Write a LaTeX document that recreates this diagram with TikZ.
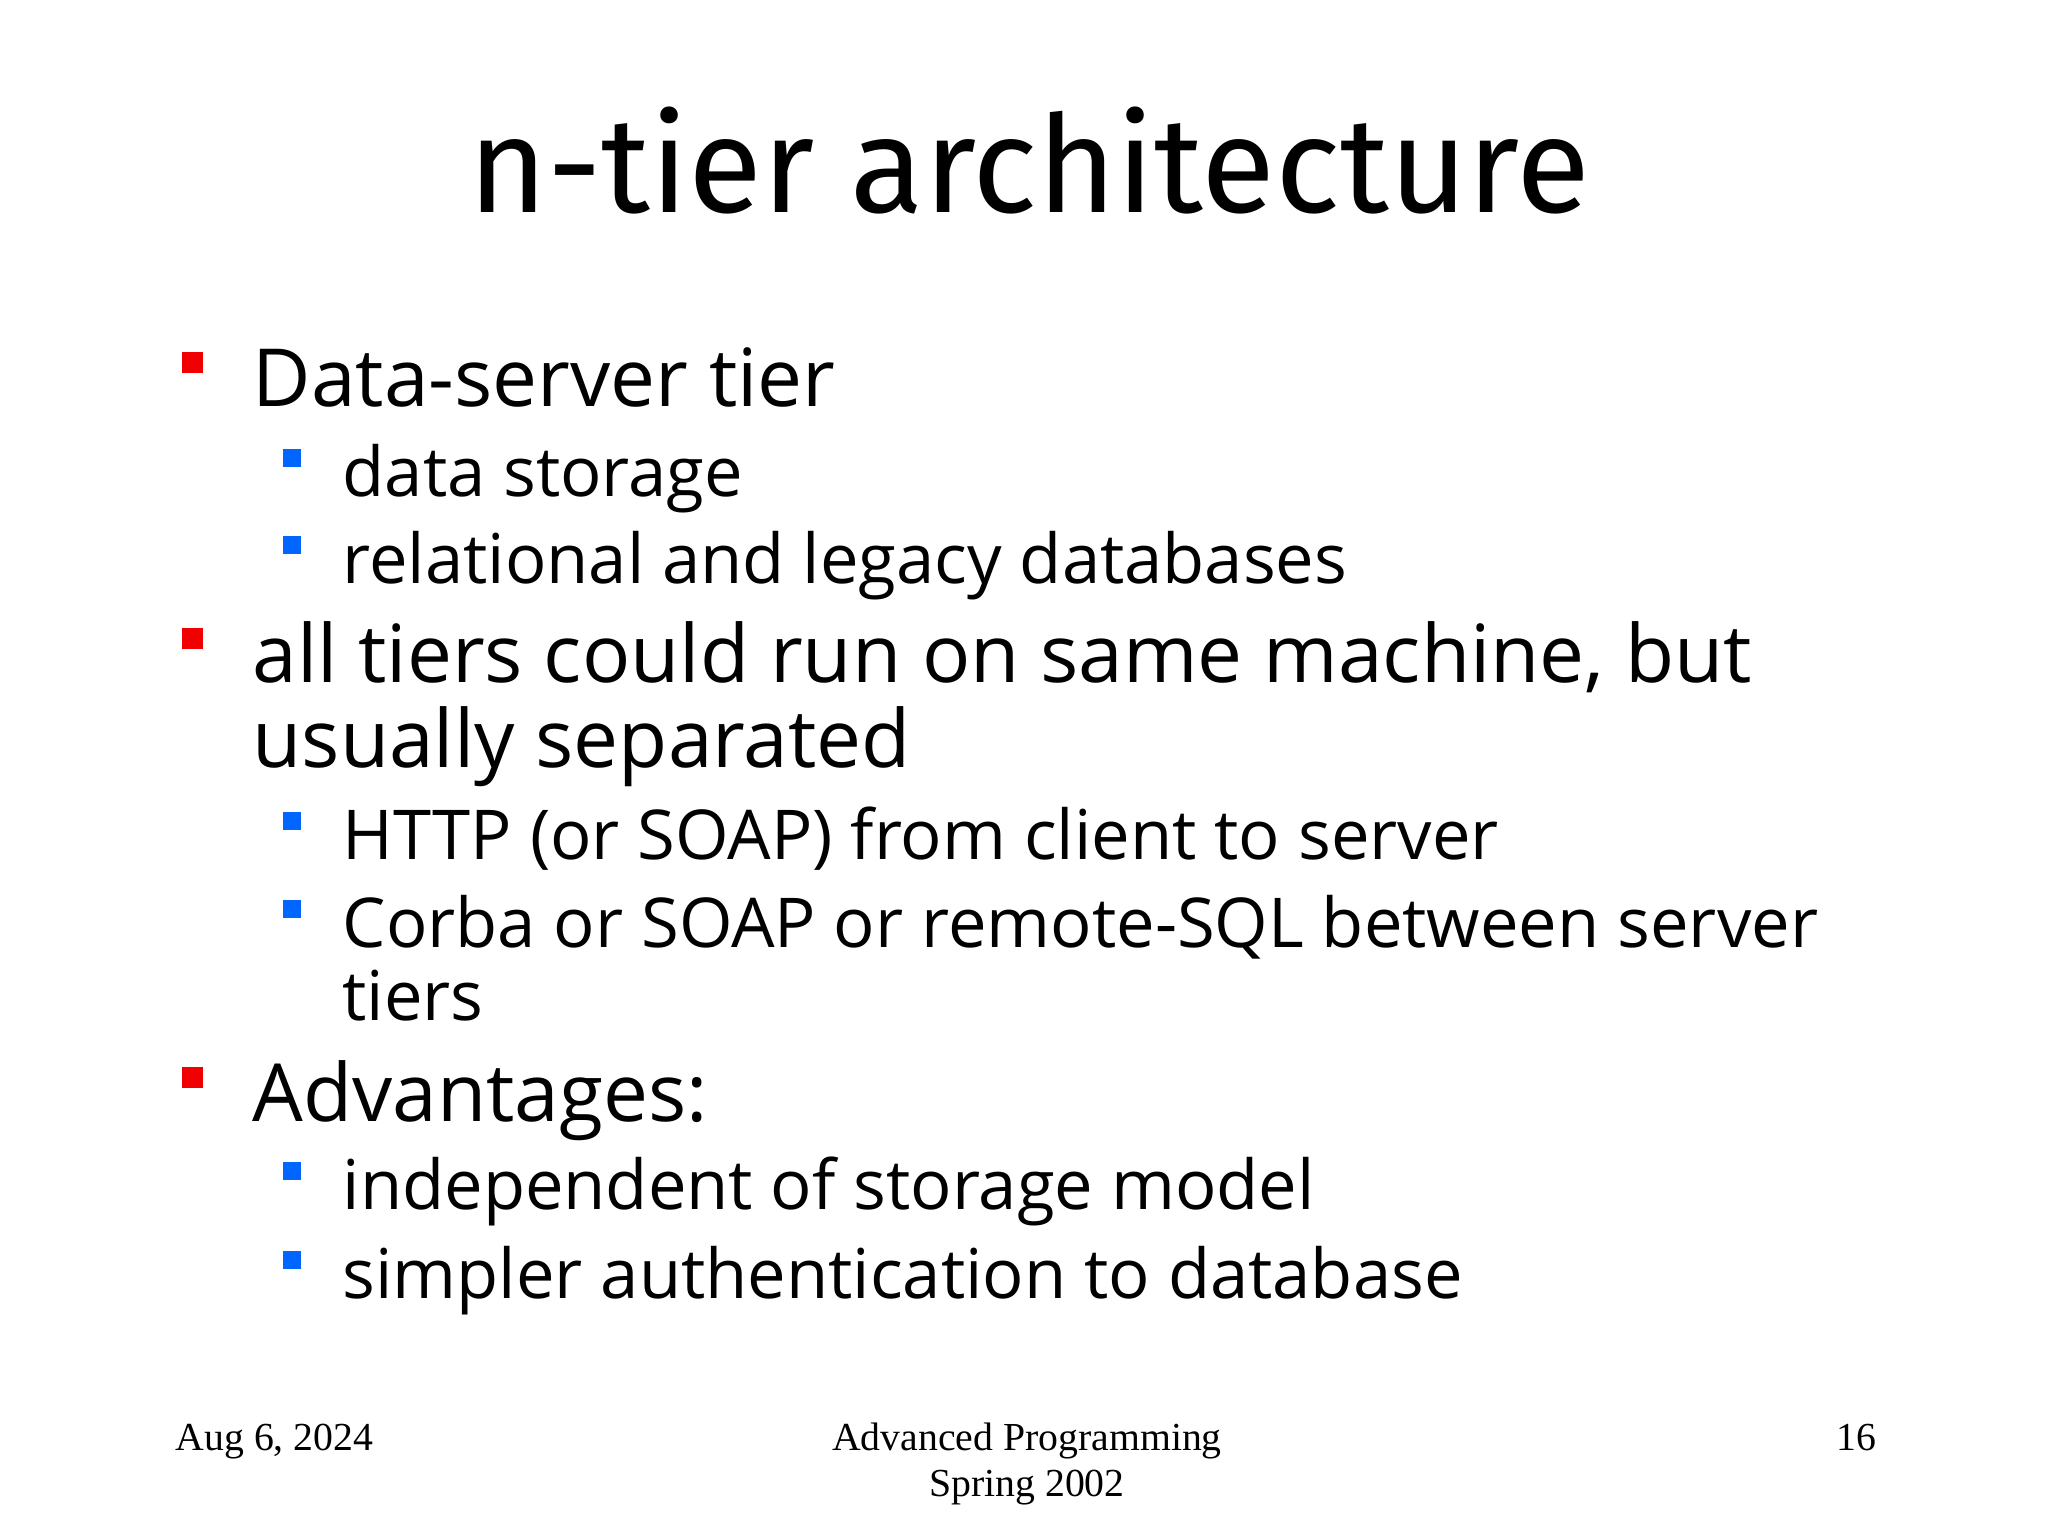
\documentclass[tikz,border=0pt]{standalone}
\usepackage{fontspec}
\setmainfont{Open Sans}
\newfontfamily\footfont{Liberation Serif}
\newfontfamily\titlefont{Fira Sans}
\definecolor{bred}{RGB}{240,0,0}
\definecolor{bblue}{RGB}{0,102,255}
\begin{document}
\begin{tikzpicture}[x=0.01cm,y=-0.01cm,
  lone/.style={anchor=base west,inner sep=0,font=\fontsize{22.8}{28}\selectfont},
  ltwo/.style={anchor=base west,inner sep=0,font=\fontsize{19.55}{24}\selectfont},
  foot/.style={anchor=base,inner sep=0,font=\footfont\fontsize{11.3}{14}\selectfont}]
\useasboundingbox (0,0) rectangle (2048,1536);
\fill[white] (0,0) rectangle (2048,1536);
\node[anchor=base,inner sep=0,font=\titlefont\fontsize{38.5}{42}\selectfont] (title) at (1029,212) {n-tier architecture};
\foreach \y in {352,628,1067} \fill[bred] (182,\y) rectangle +(21,21);
\foreach \y in {449,536,812,900,1162,1251} \fill[bblue] (283,\y) rectangle +(18,18);
\node[lone] (a) at (252,406) {Data-server tier};
\node[ltwo] (a1) at (342,496) {data storage};
\node[ltwo] (a2) at (342,583) {relational and legacy databases};
\node[lone] (b) at (252,682) {all tiers could run on same machine, but};
\node[lone] (b0) at (252,767) {usually separated};
\node[ltwo] (b1) at (342,859) {HTTP (or SOAP) from client to server};
\node[ltwo] (b2) at (342,947) {Corba or SOAP or remote-SQL between server};
\node[ltwo] (b3) at (342,1020) {tiers};
\node[lone] (c) at (252,1121) {Advantages:};
\node[ltwo] (c1) at (342,1209) {independent of storage model};
\node[ltwo] (c2) at (342,1298) {simpler authentication to database};
\node[foot,anchor=base west] (f1) at (175,1450) {Aug 6, 2024};
\node[foot] (f2) at (1027,1450) {Advanced Programming};
\node[foot] (f3) at (1027,1496) {Spring 2002};
\node[foot,anchor=base east] (f4) at (1877,1450) {16};
\end{tikzpicture}
\end{document}
